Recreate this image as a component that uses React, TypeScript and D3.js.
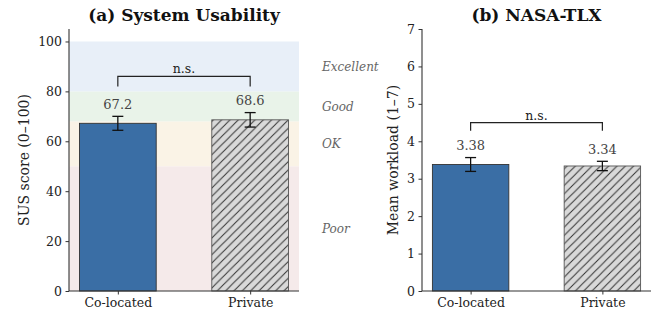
import React, { useRef, useEffect } from 'react';
import * as d3 from 'd3';

// dados
const conditions = ['Co-located', 'Private'];
const susMeans = [67.2, 68.6];
const susErrors = [2.8, 2.9];
const tlxMeans = [3.38, 3.34];
const tlxErrors = [0.185, 0.125];
const susTicks = [0, 20, 40, 60, 80, 100];
const tlxTicks = [0, 1, 2, 3, 4, 5, 6, 7];
const bandNames = ['Poor', 'OK', 'Good', 'Excellent'];
const bandLow = [0, 50, 68, 80];
const bandHigh = [50, 68, 80, 100];
const bandColors = ['#f5eaea', '#faf3e6', '#e9f3e9', '#e8eff8'];

const W = 661;
const H = 318;
const top = 29;
const bottom = 291;
const barWidth = 0.58;
const font = "'DejaVu Serif', serif";

function drawPanel(svg, opts) {
    const { x0, x1, yMax, ticks, means, errors, title, ylabel, bracketY, bracketDrop, labelX, fmt, bands } = opts;

    // margem automática de 5% como no matplotlib
    const lo = -barWidth / 2, hi = 1 + barWidth / 2;
    const m = (hi - lo) * 0.05;
    const x = d3.scaleLinear().domain([lo - m, hi + m]).range([x0, x1]);
    const y = d3.scaleLinear().domain([0, yMax]).range([bottom, top]);
    const g = svg.append('g').attr('font-family', font);

    if (bands) {
        g.selectAll('rect.band')
            .data(bandNames)
            .enter()
            .append('rect')
            .attr('x', x0)
            .attr('width', x1 - x0)
            .attr('y', (d, i) => y(bandHigh[i]))
            .attr('height', (d, i) => y(bandLow[i]) - y(bandHigh[i]))
            .attr('fill', (d, i) => bandColors[i]);

        g.selectAll('text.band')
            .data(bandNames)
            .enter()
            .append('text')
            .attr('x', x1 + 23)
            .attr('y', (d, i) => y((bandLow[i] + bandHigh[i]) / 2))
            .attr('dy', '0.35em')
            .style('font-family', font)
            .style('font-style', 'italic')
            .style('font-size', '12px')
            .style('fill', '#666')
            .text(d => d);
    }

    // barras
    g.selectAll('rect.bar')
        .data(means)
        .enter()
        .append('rect')
        .attr('x', (d, i) => x(i - barWidth / 2))
        .attr('width', x(barWidth) - x(0))
        .attr('y', d => y(d))
        .attr('height', d => y(0) - y(d))
        .attr('fill', (d, i) => i === 0 ? '#3a6ea5' : 'url(#hatch)')
        .attr('stroke', (d, i) => i === 0 ? '#333' : '#555')
        .attr('stroke-width', 0.9);

    // barras de erro
    const eb = g.selectAll('g.err')
        .data(means)
        .enter()
        .append('g');
    eb.append('line')
        .attr('x1', (d, i) => x(i)).attr('x2', (d, i) => x(i))
        .attr('y1', (d, i) => y(d - errors[i])).attr('y2', (d, i) => y(d + errors[i]));
    eb.append('line')
        .attr('x1', (d, i) => x(i) - 5.5).attr('x2', (d, i) => x(i) + 5.5)
        .attr('y1', (d, i) => y(d - errors[i])).attr('y2', (d, i) => y(d - errors[i]));
    eb.append('line')
        .attr('x1', (d, i) => x(i) - 5.5).attr('x2', (d, i) => x(i) + 5.5)
        .attr('y1', (d, i) => y(d + errors[i])).attr('y2', (d, i) => y(d + errors[i]));
    eb.selectAll('line').attr('stroke', '#111').attr('stroke-width', 1.3);

    // rótulos de valor
    g.selectAll('text.val')
        .data(means)
        .enter()
        .append('text')
        .attr('x', (d, i) => x(i))
        .attr('y', (d, i) => y(d + errors[i]) - 7.5)
        .attr('text-anchor', 'middle')
        .style('font-family', font)
        .style('font-size', '13px')
        .style('fill', '#444')
        .text(d => fmt(d));

    // colchete n.s.
    g.append('path')
        .attr('d', `M${x(0)},${y(bracketY - bracketDrop)}V${y(bracketY)}H${x(1)}V${y(bracketY - bracketDrop)}`)
        .attr('fill', 'none')
        .attr('stroke', '#222')
        .attr('stroke-width', 1.2);
    g.append('text')
        .attr('x', (x(0) + x(1)) / 2)
        .attr('y', y(bracketY) - 3)
        .attr('text-anchor', 'middle')
        .style('font-family', font)
        .style('font-size', '12.5px')
        .style('fill', '#222')
        .text('n.s.');

    // eixos
    const yAxis = g.append('g')
        .attr('transform', `translate(${x0},0)`)
        .call(d3.axisLeft(y).tickValues(ticks).tickSize(3.5).tickPadding(3.5).tickFormat(d3.format('d')));
    const xAxis = g.append('g')
        .attr('transform', `translate(0,${bottom})`)
        .call(d3.axisBottom(x).tickValues([0, 1]).tickSize(3.5).tickPadding(3.5).tickFormat((d, i) => conditions[i]));
    [yAxis, xAxis].forEach(a => {
        a.attr('font-family', font).attr('font-size', 12.5);
        a.select('.domain').attr('stroke', '#333').attr('stroke-width', 1.1);
        a.selectAll('.tick line').attr('stroke', '#333');
        a.selectAll('.tick text')
            .style('font-family', font)
            .style('font-size', '12.5px')
            .style('fill', '#222');
    });
    yAxis.select('.domain').attr('d', `M0,${bottom}V${top}`);
    xAxis.select('.domain').attr('d', `M${x0},0H${x1}`);

    g.append('text')
        .attr('x', (x0 + x1) / 2)
        .attr('y', 21)
        .attr('text-anchor', 'middle')
        .style('font-family', font)
        .style('font-weight', 'bold')
        .style('font-size', '17px')
        .style('fill', '#111')
        .text(title);

    g.append('text')
        .attr('transform', `translate(${labelX},${(top + bottom) / 2}) rotate(-90)`)
        .attr('text-anchor', 'middle')
        .style('font-family', font)
        .style('font-size', '14px')
        .style('fill', '#222')
        .text(ylabel);
}

export default function App() {
    const svgRef = useRef(null);

    useEffect(() => {
        if (!svgRef.current) return;
        const svg = d3.select(svgRef.current);
        svg.selectAll('*').remove();

        const defs = svg.append('defs');
        const pat = defs.append('pattern')
            .attr('id', 'hatch')
            .attr('patternUnits', 'userSpaceOnUse')
            .attr('width', 8.33)
            .attr('height', 8.33);
        pat.append('rect').attr('width', 8.33).attr('height', 8.33).attr('fill', '#d9d9d9');
        pat.append('path')
            .attr('d', 'M-1,1L1,-1M0,8.33L8.33,0M7.33,9.33L9.33,7.33')
            .attr('stroke', '#333')
            .attr('stroke-width', 1);

        drawPanel(svg, {
            x0: 69, x1: 299, yMax: 105, ticks: susTicks, means: susMeans, errors: susErrors,
            title: '(a) System Usability', ylabel: 'SUS score (0–100)',
            bracketY: 86, bracketDrop: 4, labelX: 29, fmt: d3.format('.1f'), bands: true
        });
        drawPanel(svg, {
            x0: 422, x1: 651, yMax: 7, ticks: tlxTicks, means: tlxMeans, errors: tlxErrors,
            title: '(b) NASA-TLX', ylabel: 'Mean workload (1–7)',
            bracketY: 4.5, bracketDrop: 0.22, labelX: 398, fmt: d3.format('.2f'), bands: false
        });
    }, []);

    return (
        <svg ref={svgRef} width={W} height={H}
            style={{ position: 'absolute', left: 0, top: 0, background: '#fff' }} />
    );
}
